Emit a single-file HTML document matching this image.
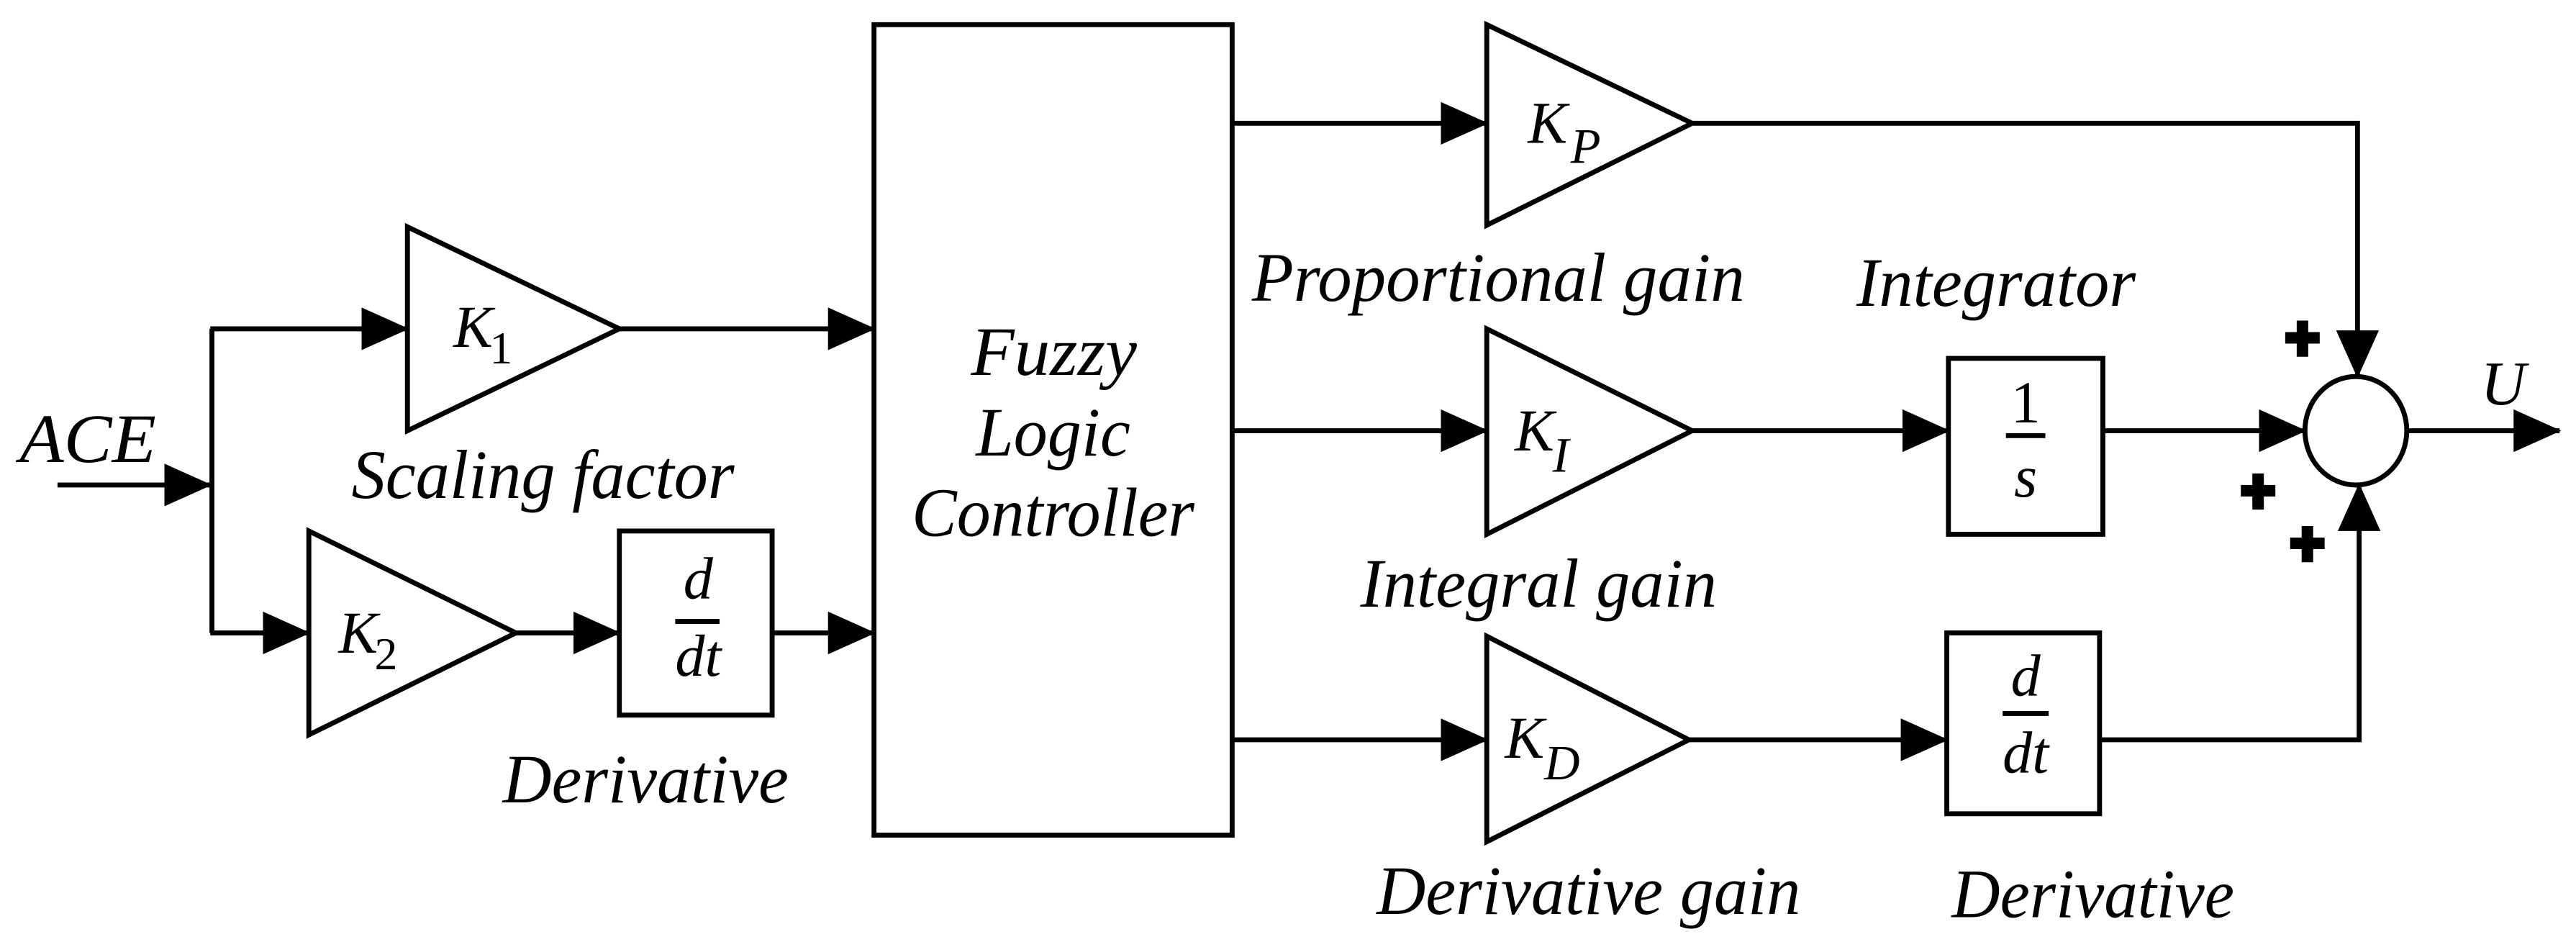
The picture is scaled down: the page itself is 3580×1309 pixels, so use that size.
<!DOCTYPE html>
<html><head><meta charset="utf-8"><style>
html,body{margin:0;padding:0;background:#fff}
svg{display:block}
</style></head><body>
<svg width="3580" height="1309" viewBox="0 0 1568 573" preserveAspectRatio="none" xmlns="http://www.w3.org/2000/svg">
<defs>
<marker id="a" markerWidth="30" markerHeight="26" refX="28" refY="13" orient="auto" markerUnits="userSpaceOnUse">
<path d="M0,0 L29,13 L0,26 Z" fill="#000"/></marker>
</defs>
<g stroke="#000" stroke-width="3" fill="none">
<line x1="35" y1="295" x2="128" y2="295" marker-end="url(#a)"/>
<line x1="129" y1="200" x2="129" y2="385"/>
<line x1="128" y1="200" x2="248" y2="200" marker-end="url(#a)"/>
<line x1="128" y1="385" x2="188" y2="385" marker-end="url(#a)"/>
<polygon points="248,138 377,200 248,262"/>
<polygon points="188,323 314,385 188,447"/>
<line x1="377" y1="200" x2="532" y2="200" marker-end="url(#a)"/>
<line x1="314" y1="385" x2="377" y2="385" marker-end="url(#a)"/>
<rect x="377" y="323" width="93" height="112"/>
<line x1="470" y1="385" x2="532" y2="385" marker-end="url(#a)"/>
<rect x="532" y="15" width="218" height="493"/>
<line x1="750" y1="75" x2="905" y2="75" marker-end="url(#a)"/>
<line x1="750" y1="262" x2="905" y2="262" marker-end="url(#a)"/>
<line x1="750" y1="450" x2="905" y2="450" marker-end="url(#a)"/>
<polygon points="905,15 1030,75 905,137"/>
<polygon points="905,200 1030,262 905,325"/>
<polygon points="905,387 1028,450 905,512"/>
<polyline points="1030,75 1435,75 1435,229" marker-end="url(#a)"/>
<line x1="1030" y1="262" x2="1186" y2="262" marker-end="url(#a)"/>
<rect x="1186" y="218" width="94" height="107"/>
<line x1="1280" y1="262" x2="1403" y2="262" marker-end="url(#a)"/>
<ellipse cx="1434" cy="262" rx="31" ry="33"/>
<line x1="1028" y1="450" x2="1185" y2="450" marker-end="url(#a)"/>
<rect x="1185" y="385" width="93" height="110"/>
<polyline points="1278,450 1436,450 1436,295" marker-end="url(#a)"/>
<line x1="1466" y1="262" x2="1558" y2="262" marker-end="url(#a)"/>
<line x1="411" y1="378" x2="438" y2="378"/>
<line x1="1221" y1="265" x2="1245" y2="265"/>
<line x1="1219" y1="434" x2="1247" y2="434"/>
</g>
<g font-family="'Liberation Serif', serif" font-style="italic" font-size="42" fill="#000">
<text x="12" y="281" textLength="83" lengthAdjust="spacingAndGlyphs">ACE</text>
<text x="214" y="303" textLength="233" lengthAdjust="spacingAndGlyphs">Scaling factor</text>
<text x="306" y="488" textLength="174" lengthAdjust="spacingAndGlyphs">Derivative</text>
<text x="591" y="228" textLength="101" lengthAdjust="spacingAndGlyphs">Fuzzy</text>
<text x="594" y="277" textLength="94" lengthAdjust="spacingAndGlyphs">Logic</text>
<text x="555" y="326" textLength="172" lengthAdjust="spacingAndGlyphs">Controller</text>
<text x="762" y="183" textLength="300" lengthAdjust="spacingAndGlyphs">Proportional gain</text>
<text x="1130" y="186" textLength="170" lengthAdjust="spacingAndGlyphs">Integrator</text>
<text x="828" y="369" textLength="217" lengthAdjust="spacingAndGlyphs">Integral gain</text>
<text x="838" y="556" textLength="258" lengthAdjust="spacingAndGlyphs">Derivative gain</text>
<text x="1188" y="558" textLength="172" lengthAdjust="spacingAndGlyphs">Derivative</text>
<text x="1510" y="246" font-size="38">U</text>
</g>
<g font-family="'Liberation Serif', serif" font-style="italic" font-size="36" fill="#000">
<text x="276" y="211">K</text><text x="298" y="221" font-size="28" font-style="normal">1</text>
<text x="206" y="397">K</text><text x="228" y="407" font-size="28" font-style="normal">2</text>
<text x="930" y="87">K</text><text x="956" y="99" font-size="30">P</text>
<text x="922" y="274">K</text><text x="945" y="287" font-size="30">I</text>
<text x="916" y="461">K</text><text x="940" y="474" font-size="30">D</text>
<text x="425" y="364" text-anchor="middle">d</text>
<text x="425" y="411" text-anchor="middle">dt</text>
<text x="1233" y="257" text-anchor="middle" font-style="normal">1</text>
<text x="1233" y="302" text-anchor="middle">s</text>
<text x="1233" y="423" text-anchor="middle">d</text>
<text x="1233" y="470" text-anchor="middle">dt</text>
</g>
<g fill="#000">
<rect x="1398" y="195" width="7" height="22"/><rect x="1391" y="202" width="21" height="7"/>
<rect x="1371" y="288" width="7" height="22"/><rect x="1364" y="295" width="21" height="7"/>
<rect x="1401" y="320" width="7" height="22"/><rect x="1394" y="327" width="21" height="7"/>
</g>
</svg>
</body></html>
